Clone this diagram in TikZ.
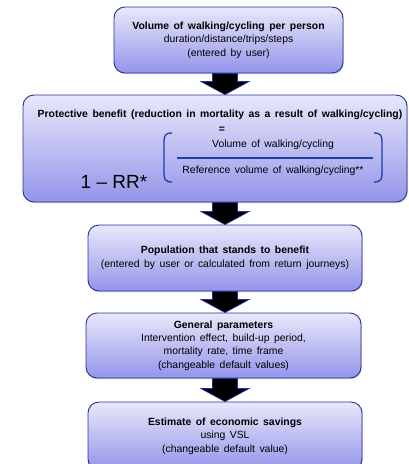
\documentclass[tikz,border=0pt]{standalone}
\usepackage{fontspec}
\setmainfont{Liberation Sans}[WordSpace=1.55]
\newfontfamily\rrfont{Liberation Sans}
\usetikzlibrary{calc,shadows}
\definecolor{boxtop}{RGB}{232,232,251}
\definecolor{boxbot}{RGB}{148,148,234}
\definecolor{boxline}{RGB}{35,48,150}
\definecolor{arrblue}{RGB}{30,50,160}
\definecolor{brk}{RGB}{30,60,170}
\tikzset{
 flowbox/.style={draw=boxline, line width=0.9pt, rounded corners=11pt, top color=boxtop, bottom color=boxbot, inner sep=0pt, align=center, font=\fontsize{10.4}{13.4}\selectfont, drop shadow={shadow xshift=0.8pt, shadow yshift=-1.2pt, opacity=0.35}},
 blockarr/.style={fill=black, draw=arrblue, line width=0.7pt, line join=miter},
 txt/.style={inner sep=0pt, font=\fontsize{10.4}{12}\selectfont},
 bigtxt/.style={inner sep=0pt, font=\rrfont\fontsize{19}{22}\selectfont},
 brace/.style={draw=brk, line width=1.3pt},
}
\newcommand\flowarrow[2]{%
 \path[blockarr] ($(ax |- #1.south)+(-12.5,0)$) -- ($(ax |- #1.south)+(12.5,0)$) -- ($(ax |- #2.north)+(12.5,13)$) -- ($(ax |- #2.north)+(24,13)$) -- (ax |- #2.north) -- ($(ax |- #2.north)+(-24,13)$) -- ($(ax |- #2.north)+(-12.5,13)$) -- cycle;}
\begin{document}
\begin{tikzpicture}[x=1pt,y=1pt]
\path[use as bounding box, clip] (0,0) rectangle (408,-464);
\coordinate (ax) at (225,0);
\node[flowbox, minimum width=229pt, minimum height=66pt] (b1) at (228.5,-40)
 {\textbf{Volume of walking/cycling per person}\\duration/distance/trips/steps\\(entered by user)};
\node[flowbox, minimum width=384pt, minimum height=107pt] (b2) at (215,-148.5) {};
\node[flowbox, minimum width=274pt, minimum height=66pt] (b3) at (225,-258)
 {\textbf{Population that stands to benefit}\\(entered by user or calculated from return journeys)};
\node[flowbox, minimum width=275pt, minimum height=65pt] (b4) at (223.5,-345.5)
 {\textbf{General parameters}\\Intervention effect, build-up period,\\mortality rate, time frame\\(changeable default values)};
\node[flowbox, minimum width=274pt, minimum height=68pt] (b5) at (225,-436)
 {\textbf{Estimate of economic savings}\\using VSL\\(changeable default value)};
% contents of box 2
\node[txt] (t2) at (220,-115) {\textbf{Protective benefit (reduction in mortality as a result of walking/cycling)}};
\node[txt] (eq) at (222,-130) {\textbf{=}};
\node[txt] (num) at (273,-145) {Volume of walking/cycling};
\node[txt] (den) at (273,-171) {Reference volume of walking/cycling**};
\node[bigtxt] (rr) at (114,-182) {1 – RR*};
\draw[brk, line width=1.2pt] (177,-158) -- (373,-158);
\draw[brace] (172,-133) .. controls (165,-133) and (164,-136) .. (164,-142) -- (164,-173) .. controls (164,-179) and (165,-182) .. (172,-182);
\draw[brace] (374,-133) .. controls (381,-133) and (382,-136) .. (382,-142) -- (382,-173) .. controls (382,-179) and (381,-182) .. (374,-182);
% block arrows
\flowarrow{b1}{b2}
\flowarrow{b2}{b3}
\flowarrow{b3}{b4}
\flowarrow{b4}{b5}
\end{tikzpicture}
\end{document}
